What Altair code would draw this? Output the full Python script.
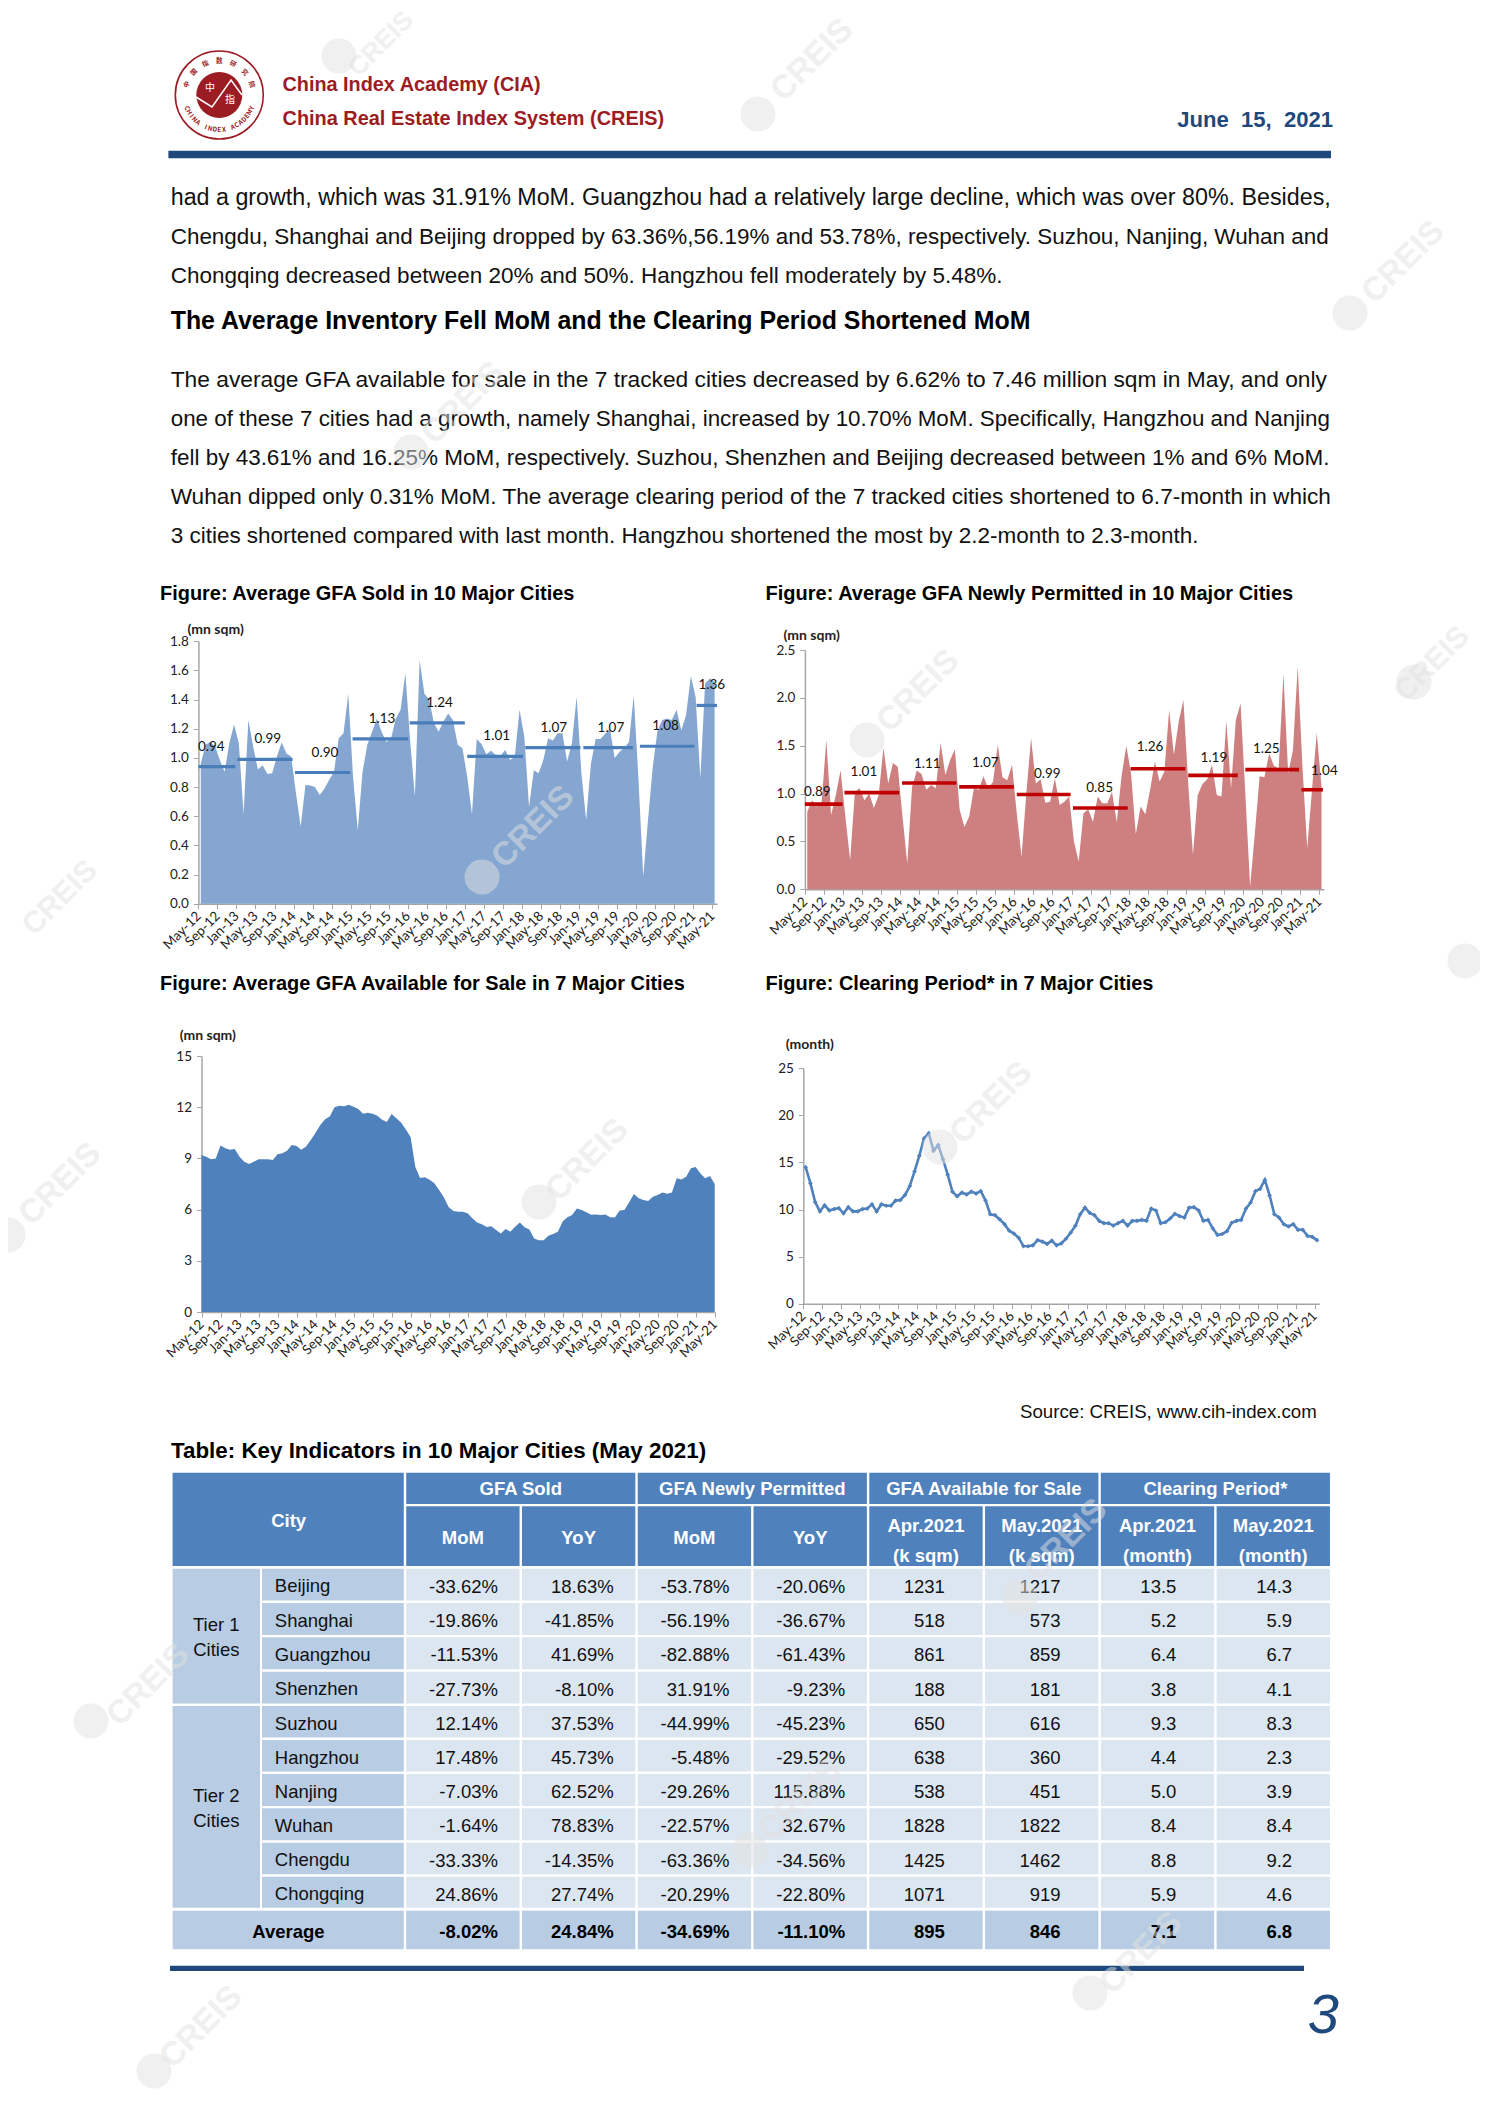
import json
import math
import altair as alt
import pandas as pd

# ---------------------------------------------------------------- chart data
tick_labels = ["May-12","Sep-12","Jan-13","May-13","Sep-13","Jan-14","May-14","Sep-14","Jan-15","May-15",
               "Sep-15","Jan-16","May-16","Sep-16","Jan-17","May-17","Sep-17","Jan-18","May-18","Sep-18",
               "Jan-19","May-19","Sep-19","Jan-20","May-20","Sep-20","Jan-21","May-21"]

gfa_sold = [0.96,1.09,1.11,1.08,0.985,0.905,1.10,1.23,1.10,0.615,1.26,1.08,0.92,0.95,0.89,0.895,1.01,1.105,1.03,1.01,
            0.76,0.53,0.815,0.81,0.80,0.745,0.79,0.85,0.905,1.135,1.17,1.44,0.87,0.505,0.905,1.09,1.18,1.27,1.18,1.11,
            1.135,1.27,1.33,1.58,1.12,0.735,1.67,1.44,1.40,1.24,1.18,1.25,1.305,1.26,1.09,1.066,0.87,0.615,1.13,1.095,
            1.025,1.05,1.02,1.015,1.055,0.985,1.01,1.33,1.145,0.665,0.915,0.895,0.985,1.135,1.12,1.17,1.17,0.975,1.10,1.42,
            0.895,0.575,0.96,1.13,1.13,1.165,1.20,1.00,1.04,1.07,1.11,1.425,0.85,0.185,0.575,0.94,1.19,1.26,1.27,1.26,
            1.33,1.19,1.295,1.56,1.42,0.86,1.51,1.545,1.52]
sold_year_avg = [0.94,0.99,0.90,1.13,1.24,1.01,1.07,1.07,1.08,1.36]
sold_seg_start = [0,8.2,20.3,32.4,44.4,56.5,68.7,80.9,92.8,104.7]
sold_seg_end = [7.75,19.8,31.9,44.1,56,68.2,80.3,91.3,104.3,109]
sold_label_m = [2.7,14.6,26.6,38.6,50.7,62.7,74.7,86.7,98.2,107.9]

gfa_permitted = [0.81,0.93,0.865,0.90,1.56,0.775,0.985,1.245,0.76,0.305,1.02,1.055,0.93,1.00,0.85,0.985,1.48,1.105,1.32,1.28,
                 0.76,0.27,1.07,1.24,1.205,1.04,1.09,1.055,1.53,1.195,1.35,1.46,0.83,0.65,0.76,1.055,1.04,1.18,1.055,1.12,
                 1.51,1.17,1.14,1.30,0.79,0.34,1.00,1.58,1.105,1.15,0.905,0.915,1.16,0.88,0.915,0.97,0.50,0.29,0.795,0.835,
                 0.705,0.97,0.90,0.90,1.02,0.70,1.18,1.50,1.21,0.575,0.865,0.785,1.04,1.335,1.125,1.23,1.87,1.405,1.75,1.98,
                 1.105,0.36,0.985,1.10,1.15,1.30,0.985,0.97,1.76,1.055,1.77,1.94,1.00,0.03,0.585,1.18,1.17,1.42,1.29,1.265,
                 2.25,1.21,1.455,2.325,1.28,0.43,1.04,1.635,1.07]
perm_year_avg = [0.89,1.01,1.11,1.07,0.99,0.85,1.26,1.19,1.25,1.04]
perm_seg_start = [0,8.3,20.4,32.4,44.5,56.3,68.4,80.5,92.5,104.3]
perm_seg_end = [7.9,19.8,31.8,43.9,55.8,67.8,79.9,90.9,103.8,108.8]
perm_label_m = [2.6,12.4,25.7,37.9,50.9,61.9,72.5,85.9,96.9,109.1]
perm_label_v = [1.02,1.226,1.306,1.316,1.201,1.062,1.49,1.375,1.462,1.233]

gfa_available = [9.2,9.1,8.95,9.0,9.75,9.6,9.5,9.55,9.1,8.8,8.67,8.8,8.95,8.95,8.95,8.9,9.25,9.3,9.45,9.78,
                 9.72,9.5,9.7,10.08,10.5,10.95,11.3,11.45,12.0,12.08,12.05,12.15,12.03,11.9,11.62,11.68,11.62,11.5,11.27,11.13,
                 11.6,11.35,11.1,10.7,10.25,8.5,7.85,7.9,7.75,7.55,7.15,6.72,6.15,5.92,5.88,5.88,5.78,5.5,5.24,5.14,
                 4.98,5.02,4.8,4.6,4.86,4.7,5.0,5.24,4.96,4.84,4.3,4.2,4.2,4.47,4.57,4.7,5.3,5.55,5.68,6.07,
                 5.98,5.84,5.7,5.72,5.68,5.72,5.55,5.53,5.94,5.98,6.43,6.91,6.66,6.56,6.5,6.76,6.86,7.0,6.93,7.0,
                 7.83,7.77,7.93,8.42,8.5,8.12,7.83,7.97,7.5]

clearing_period = [14.5,12.8,10.8,9.8,10.45,9.9,10.05,10.15,9.6,10.25,9.8,9.8,10.05,10.1,10.55,9.8,10.55,10.4,10.4,10.95,
                   11.0,11.55,12.5,14.05,15.7,17.55,18.1,16.25,16.85,15.35,13.7,11.9,11.4,11.8,11.6,11.9,11.7,11.95,10.95,9.5,
                   9.4,8.95,8.45,7.75,7.45,7.0,6.12,6.1,6.2,6.75,6.6,6.35,6.7,6.2,6.4,6.9,7.55,8.3,9.5,10.2,
                   9.65,9.4,8.8,8.55,8.55,8.3,8.55,8.8,8.3,8.8,8.8,8.9,8.8,10.1,9.9,8.55,8.65,9.05,9.55,9.3,
                   9.15,10.2,10.25,9.9,8.8,8.9,8.0,7.3,7.4,7.7,8.6,8.8,8.9,10.1,10.75,11.95,12.2,13.15,11.5,9.5,
                   9.15,8.45,8.2,8.45,7.85,7.85,7.2,7.1,6.75]

# ---------------------------------------------------------------- table data
cities = ["Beijing","Shanghai","Guangzhou","Shenzhen","Suzhou","Hangzhou","Nanjing","Wuhan","Chengdu","Chongqing"]
sold_mom = ["-33.62%","-19.86%","-11.53%","-27.73%","12.14%","17.48%","-7.03%","-1.64%","-33.33%","24.86%"]
sold_yoy = ["18.63%","-41.85%","41.69%","-8.10%","37.53%","45.73%","62.52%","78.83%","-14.35%","27.74%"]
perm_mom = ["-53.78%","-56.19%","-82.88%","31.91%","-44.99%","-5.48%","-29.26%","-22.57%","-63.36%","-20.29%"]
perm_yoy = ["-20.06%","-36.67%","-61.43%","-9.23%","-45.23%","-29.52%","115.88%","32.67%","-34.56%","-22.80%"]
avail_apr = ["1231","518","861","188","650","638","538","1828","1425","1071"]
avail_may = ["1217","573","859","181","616","360","451","1822","1462","919"]
clear_apr = ["13.5","5.2","6.4","3.8","9.3","4.4","5.0","8.4","8.8","5.9"]
clear_may = ["14.3","5.9","6.7","4.1","8.3","2.3","3.9","8.4","9.2","4.6"]
average_row = ["-8.02%","24.84%","-34.69%","-11.10%","895","846","7.1","6.8"]
table_columns = [sold_mom, sold_yoy, perm_mom, perm_yoy, avail_apr, avail_may, clear_apr, clear_may]
group_heads = ["GFA Sold","GFA Newly Permitted","GFA Available for Sale","Clearing Period*"]
sub_heads_top = ["Apr.2021","May.2021","Apr.2021","May.2021"]
sub_heads_bottom = ["(k sqm)","(k sqm)","(month)","(month)"]

# ---------------------------------------------------------------- page text
para_1 = ["had a growth, which was 31.91% MoM. Guangzhou had a relatively large decline, which was over 80%. Besides,",
          "Chengdu, Shanghai and Beijing dropped by 63.36%,56.19% and 53.78%, respectively. Suzhou, Nanjing, Wuhan and",
          "Chongqing decreased between 20% and 50%. Hangzhou fell moderately by 5.48%."]
heading = "The Average Inventory Fell MoM and the Clearing Period Shortened MoM"
para_2 = ["The average GFA available for sale in the 7 tracked cities decreased by 6.62% to 7.46 million sqm in May, and only",
          "one of these 7 cities had a growth, namely Shanghai, increased by 10.70% MoM. Specifically, Hangzhou and Nanjing",
          "fell by 43.61% and 16.25% MoM, respectively. Suzhou, Shenzhen and Beijing decreased between 1% and 6% MoM.",
          "Wuhan dipped only 0.31% MoM. The average clearing period of the 7 tracked cities shortened to 6.7-month in which",
          "3 cities shortened compared with last month. Hangzhou shortened the most by 2.2-month to 2.3-month."]

# ---------------------------------------------------------------- styling
SANS = "Liberation Sans"
CHART_FONT = "Lato"
NAVY = "#1F497D"
RED = "#9C1C24"
HEAD = "#4F81BD"
TIER = "#B8CCE4"
CELL = "#DCE6F1"
AXIS_GREY = "#A6A6A6"

REG = dict(zip("abcdefghijklmnopqrstuvwxyz",
               [556,556,500,556,556,278,556,556,222,222,500,222,833,556,556,556,556,333,500,278,556,500,722,500,500,500]))
REG.update(zip("ABCDEFGHIJKLMNOPQRSTUVWXYZ",
               [667,667,722,722,667,611,778,722,278,500,667,556,833,722,778,667,778,722,667,611,722,667,944,667,667,611]))
BOLD = dict(zip("abcdefghijklmnopqrstuvwxyz",
                [556,611,556,611,556,333,611,611,278,278,556,278,889,611,611,611,611,389,556,333,611,556,778,556,556,500]))
BOLD.update(zip("ABCDEFGHIJKLMNOPQRSTUVWXYZ",
                [722,722,722,722,667,611,778,722,278,556,722,611,833,722,778,667,778,722,667,611,722,667,944,667,667,611]))
for t, colon in ((REG, 278), (BOLD, 333)):
    t.update({c: 556 for c in "0123456789"})
    t.update({" ": 278, "\u00a0": 278, ".": 278, ",": 278, ":": colon, "%": 889, "-": 333, "(": 333, ")": 333, "*": 389})


def fit(text, width, bold=False):
    table = BOLD if bold else REG
    return width / (sum(table[c] for c in text) / 1000)


def px(lo, hi):
    return alt.Scale(domain=[lo, hi], range=[lo - 8, hi - 8], nice=False, zero=False)


PX = px(0, 1488)
PY = px(0, 2104)


def page_x(f="x"):
    return alt.X(f"{f}:Q", scale=PX, axis=None)


def page_y(f="y"):
    return alt.Y(f"{f}:Q", scale=PY, axis=None)


def page_text(rows, color="#000000", **mark):
    df = pd.DataFrame(rows, columns=["x", "y", "t", "s"])
    mark.setdefault("font", SANS)
    mark.setdefault("baseline", "middle")
    return alt.Chart(df).mark_text(color=color, **mark).encode(
        x=page_x(), y=page_y(), text="t:N", size=alt.Size("s:Q", scale=None))


def page_rects(rows):
    df = pd.DataFrame(rows, columns=["x0", "x1", "y0", "y1", "c"])
    return alt.Chart(df).mark_rect().encode(
        x=page_x("x0"), x2="x1:Q", y=page_y("y0"), y2="y1:Q",
        color=alt.Color("c:N", scale=None))


def page_points(rows, **mark):
    df = pd.DataFrame(rows, columns=["x", "y", "s"])
    return alt.Chart(df).mark_point(shape="circle", **mark).encode(
        x=page_x(), y=page_y(), size=alt.Size("s:Q", scale=None))


LABEL_EXPR = json.dumps(tick_labels) + "[round(datum.value/4)]"
TICKS = list(range(0, 109, 4))


def x_encoding(field, left, right, bottom, domain_max, show_axis=True):
    scale = alt.Scale(domain=[0, domain_max], range=[left - 8, right - 8], nice=False, zero=False)
    axis = None
    if show_axis:
        axis = alt.Axis(orient="bottom", offset=-(2088 - (bottom - 8)), values=TICKS, labelExpr=LABEL_EXPR,
                        labelAngle=315, labelAlign="right", labelBaseline="middle", labelPadding=5,
                        labelFont=CHART_FONT, labelFontSize=13.5, labelColor="#222222", labelOverlap=False,
                        domainColor=AXIS_GREY, domainWidth=1.5, tickColor=AXIS_GREY, tickSize=5, grid=False, title=None)
    return alt.X(f"{field}:Q", scale=scale, axis=axis)


def y_encoding(field, top, bottom, domain_max, values, fmt, left, show_axis=True):
    scale = alt.Scale(domain=[0, domain_max], range=[bottom - 8, top - 8], nice=False, zero=False)
    axis = None
    if show_axis:
        axis = alt.Axis(orient="left", offset=-(left - 8), values=values, format=fmt, labelFont=CHART_FONT,
                        labelFontSize=13.5, labelColor="#222222", labelPadding=5, domainColor=AXIS_GREY, domainWidth=1.5,
                        tickColor=AXIS_GREY, tickSize=5, grid=False, title=None)
    return alt.Y(f"{field}:Q", scale=scale, axis=axis)


def area_panel(values, color, rect, y_max, y_values, fmt, x_domain, half):
    left, right, top, bottom = rect
    df = pd.DataFrame({"m": [i + half for i in range(len(values))], "v": values})
    return alt.Chart(df).mark_area(color=color, opacity=1, interpolate="linear").encode(
        x=x_encoding("m", left, right, bottom, x_domain),
        y=y_encoding("v", top, bottom, y_max, y_values, fmt, left))


def avg_panel(avg, start, end, label_m, label_v, color, width, rect, y_max, dy):
    left, right, top, bottom = rect
    segs = pd.DataFrame({"s": start, "e": end, "v": avg})
    labs = pd.DataFrame({"m": label_m, "v": label_v, "t": [f"{a:.2f}" for a in avg]})
    rules = alt.Chart(segs).mark_rule(color=color, strokeWidth=width).encode(
        x=x_encoding("s", left, right, bottom, 109, False), x2="e:Q",
        y=y_encoding("v", top, bottom, y_max, [], "", left, False))
    text = alt.Chart(labs).mark_text(font=CHART_FONT, fontSize=13.5, color="#111111", dy=dy, baseline="middle").encode(
        x=x_encoding("m", left, right, bottom, 109, False),
        y=y_encoding("v", top, bottom, y_max, [], "", left, False),
        text="t:N")
    return [rules, text]


RECT_1 = (198.4, 717, 641.3, 903.7)
RECT_2 = (804.9, 1323.9, 650, 889.3)
RECT_3 = (201.5, 714.7, 1056, 1312)
RECT_4 = (803.3, 1319.3, 1068.3, 1303.7)

layers = []
layers.append(area_panel(gfa_sold, "#84A6D0", RECT_1, 1.8, [0, .2, .4, .6, .8, 1, 1.2, 1.4, 1.6, 1.8], ".1f", 109, 0.5))
layers += avg_panel(sold_year_avg, sold_seg_start, sold_seg_end, sold_label_m, sold_year_avg, "#4A7EBB", 3.2, RECT_1, 1.8, -20)
layers.append(area_panel(gfa_permitted, "#CE8080", RECT_2, 2.5, [0, .5, 1, 1.5, 2, 2.5], ".1f", 109, 0.5))
layers += avg_panel(perm_year_avg, perm_seg_start, perm_seg_end, perm_label_m, perm_label_v, "#C00000", 3.6, RECT_2, 2.5, 0)
layers.append(area_panel(gfa_available, "#4F81BD", RECT_3, 15, [0, 3, 6, 9, 12, 15], "d", 108, 0))

cl_df = pd.DataFrame({"m": [i + 0.5 for i in range(len(clearing_period))], "v": clearing_period})
L4, R4, T4, B4 = RECT_4
layers.append(alt.Chart(cl_df).mark_line(color="#4F81BD", strokeWidth=2.6).encode(
    x=x_encoding("m", L4, R4, B4, 109),
    y=y_encoding("v", T4, B4, 25, [0, 5, 10, 15, 20, 25], "d", L4)))
layers.append(alt.Chart(cl_df).mark_point(shape="diamond", filled=True, color="#4F81BD", size=22, opacity=1).encode(
    x=x_encoding("m", L4, R4, B4, 109, False),
    y=y_encoding("v", T4, B4, 25, [], "", L4, False)))

# unit captions above the value axes
layers.append(page_text([(187.5, 630, "(mn sqm)", 14), (783.5, 636, "(mn sqm)", 14),
                         (179.7, 1036, "(mn sqm)", 14), (785.8, 1045, "(month)", 14)],
                        font=CHART_FONT, fontWeight="bold", align="left", color="#222222"))

# ------------------------------------------------ page header
layers.append(page_rects([(168.4, 1331, 150.7, 158.3, NAVY), (170, 1304, 1965.7, 1971, NAVY)]))
layers.append(page_text([(282.5, 85, "China Index Academy (CIA)", fit("China Index Academy (CIA)", 259, True)),
                         (282.5, 119.3, "China Real Estate Index System (CREIS)",
                          fit("China Real Estate Index System (CREIS)", 382, True))],
                        color=RED, fontWeight="bold", align="left"))
date_text = "June\u00a0\u00a015,\u00a0\u00a02021"
layers.append(page_text([(1333, 119.5, date_text, fit(date_text, 156, True))], color=NAVY, fontWeight="bold", align="right"))

# logo
LOGO_X, LOGO_Y = 219.3, 95
layers.append(page_points([(LOGO_X, LOGO_Y, 88 ** 2)], color=RED, strokeWidth=1.6, filled=False, opacity=1))
layers.append(page_points([(LOGO_X, LOGO_Y, 46 ** 2)], color=RED, filled=True, opacity=1))
logo_line = pd.DataFrame({"x": [196, 212, 231, 242], "y": [97, 107, 80, 95], "o": [0, 1, 2, 3]})
layers.append(alt.Chart(logo_line).mark_line(color="#FFFFFF", strokeWidth=1.5).encode(
    x=page_x(), y=page_y(), order="o:Q"))
layers.append(page_text([(210, 88, "中", 10), (230, 100, "指", 10)], color="#FFFFFF", font="Noto Sans CJK SC", align="center"))
bottom_arc = "CHINA INDEX ACADEMY"
top_arc = "中国指数研究院"
arc_rows = []
for k, ch in enumerate(bottom_arc):
    phi = -68 + 136 * k / (len(bottom_arc) - 1)
    r = math.radians(phi)
    arc_rows.append({"x": LOGO_X + 35 * math.sin(r), "y": LOGO_Y + 35 * math.cos(r), "t": ch, "a": (360 - phi) % 360})
for k, ch in enumerate(top_arc):
    phi = -72 + 144 * k / (len(top_arc) - 1)
    r = math.radians(phi)
    arc_rows.append({"x": LOGO_X + 34 * math.sin(r), "y": LOGO_Y - 34 * math.cos(r), "t": ch, "a": phi % 360})
layers.append(alt.Chart(pd.DataFrame(arc_rows)).mark_text(
    font="Noto Sans CJK SC", fontSize=6.5, fontWeight="bold", color=RED, baseline="middle").encode(
    x=page_x(), y=page_y(), text="t:N", angle=alt.Angle("a:Q", scale=None)))

# ------------------------------------------------ body text
FULL = 1161
body_rows = [(170.7, 197.7, para_1[0], fit(para_1[0], FULL)),
             (170.7, 236.7, para_1[1], fit(para_1[1], FULL)),
             (170.7, 275.7, para_1[2], fit(para_1[2], 832))]
for k, w in enumerate([FULL, FULL, FULL, FULL, 1028]):
    body_rows.append((170.7, 379.5 + 39 * k, para_2[k], fit(para_2[k], w)))
body_rows.append((1020, 1412, "Source: CREIS, www.cih-index.com", fit("Source: CREIS, www.cih-index.com", 298)))
layers.append(page_text(body_rows, color="#111111", align="left"))

titles = [("Figure: Average GFA Sold in 10 Major Cities", 160, 594, 418),
          ("Figure: Average GFA Newly Permitted in 10 Major Cities", 765.6, 594, 531),
          ("Figure: Average GFA Available for Sale in 7 Major Cities", 160, 984, 530),
          ("Figure: Clearing Period* in 7 Major Cities", 765.6, 984, 388),
          (heading, 170.7, 322, 862),
          ("Table: Key Indicators in 10 Major Cities (May 2021)", 171, 1451, 537)]
layers.append(page_text([(x, y, t, fit(t, w, True)) for t, x, y, w in titles], color="#000000", fontWeight="bold", align="left"))

# ------------------------------------------------ table
T_LEFT, TIER_END, CITY_START, CITY_END = 172.6, 260, 262, 405
COL_W = 115.77
H_TOP, H_MID0, H_MID1, H_BOTTOM = 1472.7, 1504, 1506.3, 1566
ROW_TOPS = [1568.7, 1603, 1637.3, 1671.7, 1706, 1740, 1774, 1808.3, 1842.7, 1876.7]
ROW_BOTTOM_LAST, AVG_TOP, AVG_BOTTOM = 1907.7, 1910.7, 1949.3
row_bottoms = [t - 2.4 for t in ROW_TOPS[1:]] + [ROW_BOTTOM_LAST]
col_left = [CITY_END + k * COL_W for k in range(8)]
right_inset = [22.8, 22.8, 22.8, 22.8, 39, 39, 39, 39]

rects = [(T_LEFT, CITY_END - 1.2, H_TOP, H_BOTTOM, HEAD)]
for g in range(4):
    rects.append((col_left[g * 2] + 1.2, col_left[g * 2] + 2 * COL_W - 1.2, H_TOP, H_MID0, HEAD))
for k in range(8):
    rects.append((col_left[k] + 1.2, col_left[k] + COL_W - 1.2, H_MID1, H_BOTTOM, HEAD))
    rects.append((col_left[k] + 1.2, col_left[k] + COL_W - 1.2, AVG_TOP, AVG_BOTTOM, TIER))
    for top, bot in zip(ROW_TOPS, row_bottoms):
        rects.append((col_left[k] + 1.2, col_left[k] + COL_W - 1.2, top, bot, CELL))
rects.append((T_LEFT, TIER_END, ROW_TOPS[0], row_bottoms[3], TIER))
rects.append((T_LEFT, TIER_END, ROW_TOPS[4], row_bottoms[9], TIER))
for top, bot in zip(ROW_TOPS, row_bottoms):
    rects.append((CITY_START, CITY_END - 1.2, top, bot, TIER))
rects.append((T_LEFT, CITY_END - 1.2, AVG_TOP, AVG_BOTTOM, TIER))
layers.append(page_rects(rects))

TS = 18.5
head_rows = [(288.6, 1520.7, "City", TS)]
for g, name in enumerate(group_heads):
    head_rows.append((col_left[g * 2] + COL_W, 1489.3, name, TS))
for k in range(4):
    head_rows.append((col_left[k] + COL_W / 2, 1537.7, ["MoM", "YoY"][k % 2], TS))
    head_rows.append((col_left[k + 4] + COL_W / 2, 1525.7, sub_heads_top[k], TS))
    head_rows.append((col_left[k + 4] + COL_W / 2, 1555.7, sub_heads_bottom[k], TS))
layers.append(page_text(head_rows, color="#FFFFFF", fontWeight="bold", align="center"))

layers.append(page_text([(216.3, 1625, "Tier 1", TS), (216.3, 1650, "Cities", TS),
                         (216.3, 1795.7, "Tier 2", TS), (216.3, 1820.7, "Cities", TS)],
                        color="#111111", align="center"))
layers.append(page_text([(274.8, t + 17.5, c, TS) for t, c in zip(ROW_TOPS, cities)], color="#111111", align="left"))
cell_rows = []
for k, col in enumerate(table_columns):
    for t, v in zip(ROW_TOPS, col):
        cell_rows.append((col_left[k] + COL_W - right_inset[k], t + 18, v, TS))
layers.append(page_text(cell_rows, color="#111111", align="right"))
avg_rows = [(col_left[k] + COL_W - right_inset[k], 1931.7, v, TS) for k, v in enumerate(average_row)]
layers.append(page_text(avg_rows, color="#000000", fontWeight="bold", align="right"))
layers.append(page_text([(288.5, 1931.7, "Average", TS)], color="#000000", fontWeight="bold", align="center"))

# page number
layers.append(page_text([(1339, 2016, "3", 56)], color=NAVY, align="right", fontStyle="italic"))

# ------------------------------------------------ watermarks
mark_circles = [(339, 56), (758, 114), (1350, 313), (1414, 682), (1465, 961), (411, 452), (867, 740), (482, 877),
                (539, 1202), (940, 1147), (8, 1235), (91, 1721), (154, 2071), (1090, 1993), (1020, 1597), (750, 1850)]
mark_words = [(381, 44, 26), (812, 60, 33), (1403, 262, 33), (1432, 664, 30), (60, 898, 30), (463, 403, 33),
              (918, 691, 33), (533, 827, 33), (587, 1160, 33), (991, 1103, 33), (60, 1184, 33), (148, 1685, 33),
              (201, 2027, 33), (1141, 1953, 33), (1066, 1540, 33), (800, 1800, 33)]
layers.append(page_points([(cx, cy, 35 ** 2) for cx, cy in mark_circles],
                          color="#E2E2E2", filled=True, opacity=0.5))
layers.append(page_text([(tx, ty, "CREIS", s) for tx, ty, s in mark_words], color="#E2E2E2",
                        align="center", fontWeight="bold", angle=315, opacity=0.5))

chart = alt.layer(*layers).resolve_scale(x="independent", y="independent").properties(
    width=1472, height=2088, padding=0, autosize=alt.AutoSizeParams(type="none"), background="#FFFFFF"
).configure_view(stroke=None)

chart.save("out.html", embed_options={"renderer": "svg", "actions": False})
